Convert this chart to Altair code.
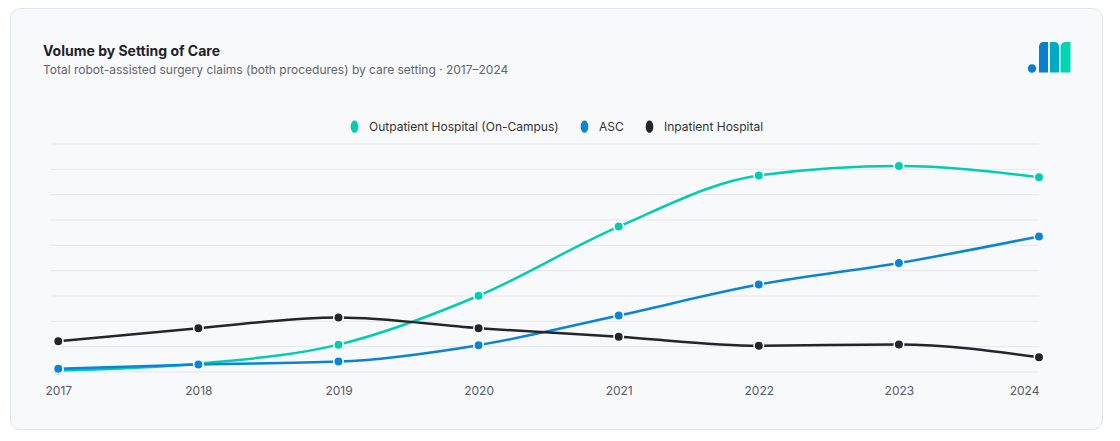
import altair as alt
import pandas as pd

years = [2017, 2018, 2019, 2020, 2021, 2022, 2023, 2024]
series_names = ["Outpatient Hospital (On-Campus)", "ASC", "Inpatient Hospital"]
outpatient = [0.06, 0.33, 1.08, 3.01, 5.74, 7.76, 8.13, 7.69]
asc = [0.13, 0.30, 0.41, 1.06, 2.23, 3.45, 4.30, 5.35]
inpatient = [1.21, 1.73, 2.15, 1.73, 1.39, 1.04, 1.09, 0.58]
grid_values = [0, 1, 2, 3, 4, 5, 6, 7, 8, 9]
colors = ["#00CDB2", "#0A84D4", "#23252B"]

FONT = "Inter"

rows = []
for name, vals in zip(series_names, [outpatient, asc, inpatient]):
    for y, v in zip(years, vals):
        rows.append({"year": y, "value": v, "series": name})
df = pd.DataFrame(rows)

one = pd.DataFrame({"a": [0]})

x_enc = alt.X("year:Q",
              scale=alt.Scale(domain=[2016.948, 2024], nice=False, zero=False),
              axis=alt.Axis(values=years, format="d", title=None, grid=False,
                            domain=False, ticks=False, labelPadding=13, zindex=1,
                            labelFontSize=12, labelColor="#555b66", labelFont=FONT))
y_scale = alt.Scale(domain=[0, 9], nice=False, zero=True)
color_enc = alt.Color("series:N",
                      scale=alt.Scale(domain=series_names, range=colors),
                      sort=series_names,
                      legend=alt.Legend(title=None, orient="none", direction="horizontal",
                                        legendX=297, legendY=-24, labelLimit=0,
                                        symbolType="M0,-1A0.62,1,0,1,1,0,1A0.62,1,0,1,1,0,-1Z",
                                        symbolSize=150, symbolStrokeWidth=0,
                                        labelFontSize=12, labelColor="#333333",
                                        labelFont=FONT, labelOffset=8, columnPadding=19))

card = alt.Chart(one).mark_rect(cornerRadius=10, fill="#f8f9fb", stroke="#e2e5ea",
                                strokeWidth=1).encode(
    x=alt.value(-40.5), x2=alt.value(1051.5), y=alt.value(-135.5), y2=alt.value(285.5))

grid = alt.Chart(pd.DataFrame({"g": grid_values})).mark_rule(
    color="#e5e7eb", strokeWidth=1).encode(
    y=alt.Y("g:Q", scale=y_scale, axis=None))

lines = alt.Chart(df).mark_line(interpolate="monotone", strokeWidth=2.5).encode(
    x=x_enc,
    y=alt.Y("value:Q", scale=y_scale, axis=None),
    color=color_enc,
    detail="series:N")

points = alt.Chart(df).mark_circle(size=90, opacity=1, stroke="white",
                                   strokeWidth=1.5).encode(
    x=x_enc,
    y=alt.Y("value:Q", scale=y_scale, axis=None),
    color=color_enc)

title = alt.Chart(one).mark_text(text="Volume by Setting of Care", font=FONT,
                                 fontSize=14, fontWeight="bold", color="#1f2329",
                                 align="left", baseline="alphabetic").encode(
    x=alt.value(-8), y=alt.value(-88))
subtitle = alt.Chart(one).mark_text(
    text="Total robot-assisted surgery claims (both procedures) by care setting · 2017–2024",
    font=FONT, fontSize=12, color="#5f6670", align="left", baseline="alphabetic").encode(
    x=alt.value(-8), y=alt.value(-70))

logo_dot = alt.Chart(one).mark_circle(size=70, color="#0A7FD0", opacity=1).encode(
    x=alt.value(981), y=alt.value(-75.5))
logo_a = alt.Chart(one).mark_rect(color="#0A7FD0", cornerRadiusTopLeft=6).encode(
    x=alt.value(988), x2=alt.value(997), y=alt.value(-102), y2=alt.value(-71.5))
logo_b = alt.Chart(one).mark_rect(color="#00AAC2", cornerRadiusTopRight=6).encode(
    x=alt.value(999), x2=alt.value(1008), y=alt.value(-102), y2=alt.value(-71.5))
logo_c = alt.Chart(one).mark_rect(color="#00D4B0", cornerRadiusTopLeft=6).encode(
    x=alt.value(1009.5), x2=alt.value(1019.5), y=alt.value(-102), y2=alt.value(-71.5))

chart = alt.layer(card, grid, lines, points, title, subtitle,
                  logo_dot, logo_a, logo_b, logo_c).properties(
    width=988, height=228,
    autosize=alt.AutoSizeParams(type="none"),
    padding={"left": 43, "top": 136, "right": 69, "bottom": 61},
    background="white",
).configure_view(stroke=None)

chart.save("out.html", embed_options={"renderer": "svg", "actions": False})
